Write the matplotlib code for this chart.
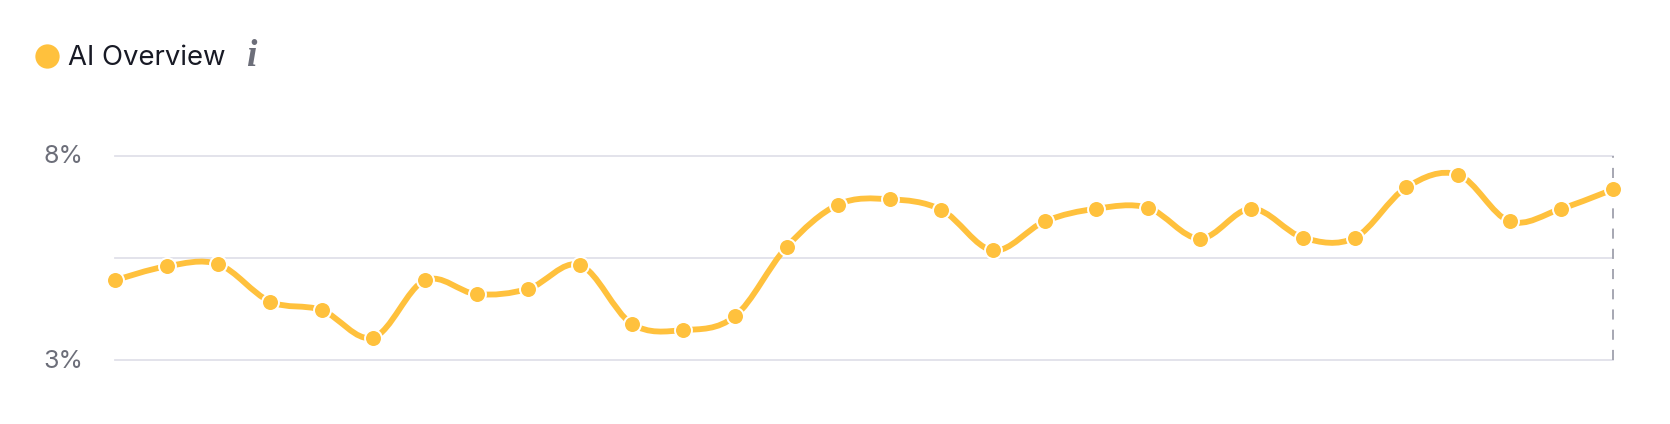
import numpy as np
import matplotlib
matplotlib.use('Agg')
import matplotlib.pyplot as plt
from matplotlib.lines import Line2D
from matplotlib.path import Path
from matplotlib.patches import PathPatch
from matplotlib.transforms import ScaledTranslation

plt.rcParams['font.family'] = ['Inter', 'DejaVu Sans']

# Values (percent)
overview_values = [
    4.95, 5.29, 5.34, 4.43, 4.22, 3.55, 4.95, 4.61, 4.74, 5.32,
    3.89, 3.73, 4.07, 5.76, 6.80, 6.93, 6.67, 5.68, 6.39, 6.70,
    6.72, 5.97, 6.70, 5.99, 5.99, 7.22, 7.53, 6.39, 6.70, 7.17,
]
grid_values = [3, 5.5, 8]
tick_labels = ['3%', '', '8%']
series_name = 'AI Overview'

YELLOW = '#ffc13d'
W, H = 1670, 424


def smooth_path(xs, ys, k=0.17):
    # cubic bezier through the points, like the spline of the original chart
    xs = np.asarray(xs, dtype=float)
    ys = np.asarray(ys, dtype=float)
    verts = [(xs[0], ys[0])]
    codes = [Path.MOVETO]
    n = len(xs)
    for i in range(n - 1):
        i0 = max(i - 1, 0)
        i3 = min(i + 2, n - 1)
        verts.append((xs[i] + k * (xs[i + 1] - xs[i0]), ys[i] + k * (ys[i + 1] - ys[i0])))
        verts.append((xs[i + 1] - k * (xs[i3] - xs[i]), ys[i + 1] - k * (ys[i3] - ys[i])))
        verts.append((xs[i + 1], ys[i + 1]))
        codes += [Path.CURVE4, Path.CURVE4, Path.CURVE4]
    return Path(verts, codes)


fig = plt.figure(figsize=(W / 100, H / 100), dpi=100)
ax = fig.add_axes([115 / W, 1 - 360 / H, (1613 - 115) / W, (360 - 155.5) / H])

x = np.arange(len(overview_values))
ax.set_xlim(0, len(x) - 1)
ax.set_ylim(3, 8)

for g in grid_values:
    ax.axhline(g, color='#e1e1e9', lw=1.3, zorder=1, clip_on=False)
ax.axvline(x[-1], color='#a6a7b2', lw=1.4, dashes=(5.2, 5.2), zorder=2, clip_on=False)

ax.add_patch(PathPatch(smooth_path(x, overview_values), fill=False, edgecolor=YELLOW,
                       lw=4.2, capstyle='round', zorder=3, clip_on=False))
ax.plot(x, overview_values, ls='none', marker='o', ms=12.2, mfc=YELLOW, mec='white',
        mew=1.4, zorder=4, clip_on=False)

for s in ax.spines.values():
    s.set_visible(False)
ax.set_xticks([])
ax.set_yticks(grid_values)
ax.set_yticklabels(tick_labels, fontsize=18, color='#6c6e79')
ax.tick_params(axis='y', length=0, pad=23)
# nudge the tick labels up a pixel
for label in ax.get_yticklabels():
    label.set_transform(label.get_transform() + ScaledTranslation(0, 1.2 / 100, fig.dpi_scale_trans))

# Legend header
fig.add_artist(Line2D([47 / W], [1 - 56 / H], marker='o', ms=17.5, color=YELLOW, mew=0,
                      transform=fig.transFigure))
fig.text(68 / W, 1 - 58 / H, series_name, fontsize=19.8, color='#181a25', va='center', ha='left')
fig.text(251 / W, 1 - 57 / H, 'i', fontsize=27, color='#6c6e79', va='center', ha='center',
         family='Liberation Serif', style='italic', weight='bold')

fig.savefig('out.png', dpi=100)
